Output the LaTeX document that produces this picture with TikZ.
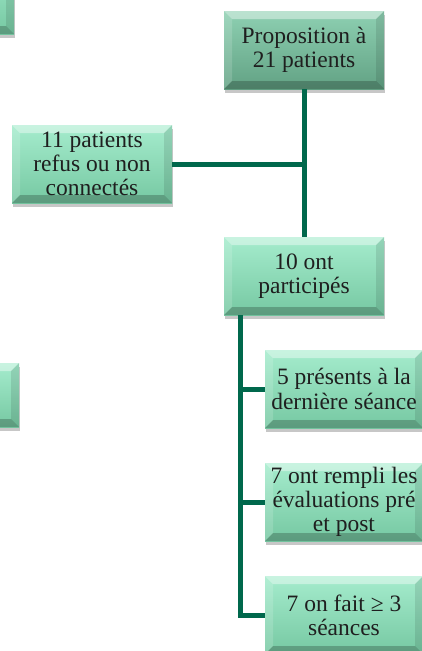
\documentclass[tikz,border=0pt]{standalone}
\usepackage{fontspec}
\setmainfont{Liberation Serif}
\usetikzlibrary{calc,shadows}
\definecolor{linegreen}{RGB}{0,104,76}
\definecolor{boxtop}{RGB}{165,236,205}
\definecolor{boxbot}{RGB}{118,200,162}
\definecolor{dboxtop}{RGB}{142,208,178}
\definecolor{dboxbot}{RGB}{98,162,132}
\tikzset{
  bevel/.style={path picture={
    \fill[white,opacity=0.4] (path picture bounding box.north west) -- (path picture bounding box.north east)
      -- ($(path picture bounding box.north east)+(-8pt,-8pt)$) -- ($(path picture bounding box.north west)+(8pt,-8pt)$) -- cycle;
    \fill[white,opacity=0.15] (path picture bounding box.north west) -- ($(path picture bounding box.north west)+(8pt,-8pt)$)
      -- ($(path picture bounding box.south west)+(8pt,8pt)$) -- (path picture bounding box.south west) -- cycle;
    \fill[black,opacity=0.22] (path picture bounding box.south west) -- (path picture bounding box.south east)
      -- ($(path picture bounding box.south east)+(-8pt,8pt)$) -- ($(path picture bounding box.south west)+(8pt,8pt)$) -- cycle;
    \fill[black,opacity=0.1] (path picture bounding box.north east) -- ($(path picture bounding box.north east)+(-8pt,-8pt)$)
      -- ($(path picture bounding box.south east)+(-8pt,8pt)$) -- (path picture bounding box.south east) -- cycle;
  }},
  box/.style={bevel, minimum width=160pt, minimum height=78pt, inner sep=0pt, align=center,
    font=\fontsize{23.5}{24.3}\selectfont, text={black!88},
    top color=boxtop, bottom color=boxbot,
    drop shadow={shadow xshift=1pt, shadow yshift=-4pt, opacity=0.22, fill=black}},
  dbox/.style={box, top color=dboxtop, bottom color=dboxbot},
  conn/.style={draw=linegreen, line width=5pt}
}
\begin{document}
\begin{tikzpicture}[x=1pt,y=-1pt]
\useasboundingbox (0,0) rectangle (421,651);
\node[box] (tl) at (-66,-5) {};
\node[box, minimum height=64pt] (ml) at (-61,395) {};
\node[dbox] (prop) at (304,50) {Proposition à\\21 patients};
\node[box] (refus) at (92,164) {11 patients\\refus ou non\\connectés};
\node[box] (part) at (304,276) {10 ont\\participés};
\node[box, minimum width=158pt] (p5) at (344,389) {5 présents à la\\dernière séance};
\node[box, minimum width=158pt] (p7a) at (344,502) {7 ont rempli les\\évaluations pré\\et post};
\node[box, minimum width=158pt] (p7b) at (344,615) {7 on fait ≥ 3\\séances};
\coordinate (trunk) at (240,0);
\draw[conn] (prop.south) -- (part.north);
\draw[conn] (refus.east) -- (refus.east -| prop.south);
\draw[conn] (trunk |- part.south) |- (p7b.west);
\draw[conn] (trunk |- p5.west) -- (p5.west);
\draw[conn] (trunk |- p7a.west) -- (p7a.west);
\end{tikzpicture}
\end{document}
